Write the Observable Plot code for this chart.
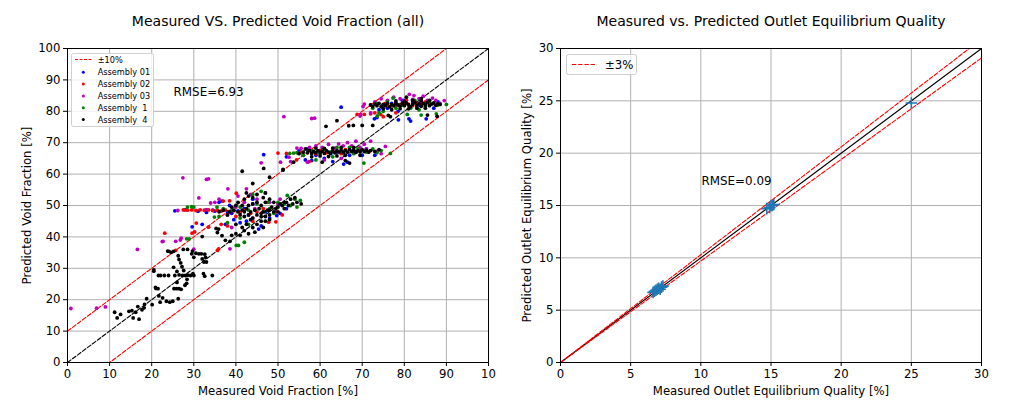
<!DOCTYPE html>
<html><head><meta charset="utf-8">
<script src="https://cdn.jsdelivr.net/npm/d3@7"></script>
<script src="https://cdn.jsdelivr.net/npm/@observablehq/plot@0.6"></script>
<style>
body{margin:0;background:#fff;font-family:"DejaVu Sans",sans-serif;}
#wrap{position:relative;width:1036px;height:407px;overflow:hidden;background:#fff}
#left,#right{position:absolute;top:0}
#left{left:0}#right{left:518px}
svg text{white-space:pre}
.leg{position:absolute}
</style></head><body>
<div id="wrap"><div id="left"></div><div id="right"></div>
<svg class="leg" id="legL" width="84" height="75" style="left:71px;top:53px"></svg>
<svg class="leg" id="legR" width="72" height="22" style="left:566px;top:54px"></svg>
</div>
<script>
// ---------- data ----------
const leftTitle = "Measured VS. Predicted Void Fraction (all)";
const rightTitle = "Measured vs. Predicted Outlet Equilibrium Quality";
const leftXLabel = "Measured Void Fraction [%]";
const leftYLabel = "Predicted Void Fraction [%]";
const rightXLabel = "Measured Outlet Equilibrium Quality [%]";
const rightYLabel = "Predicted Outlet Equilibrium Quality [%]";
const leftTicks = [0,10,20,30,40,50,60,70,80,90,100];
const leftXTickLabels = ["0","10","20","30","40","50","60","70","80","90","10"];
const leftYTickLabels = ["0","10","20","30","40","50","60","70","80","90","100"];
const rightTicks = [0,5,10,15,20,25,30];
const legendLabels = ["Assembly 01","Assembly 02","Assembly 03","Assembly  1","Assembly  4"];
const seriesColors = ["#0000ff","#ff0000","#bf00bf","#008000","#000000"];
const bandLeftLabel = "±10%";
const bandRightLabel = "±3%";
const bandLeft = 10;      // absolute %
const bandRight = 0.03;   // relative
const rmseLeft = "RMSE=6.93";
const rmseRight = "RMSE=0.09";

const asm01 = [[25.5,48.3],[28,48.6],[29.6,43.2],[31,48.2],[32,44],[33,47.8],[34.5,48.5],[36.7,51.4],[37.5,44],[38,48],[39,47.5],[40.5,48.3],[41,44.5],[42,49],[43,47],[44,50.5],[45.4,42.5],[46,43.5],[47,48],[48,46],[49.7,46.8],[50.5,47.5],[52,49],[36,51],[38.5,50],[44,52],[35,48.2],[39.5,45.5],[42.5,45],
[46.6,66.2],[55,67.4],[56.5,64.5],[58,64.3],[59,66],[60,67.5],[61,65],[62.5,66.5],[64,67],[65.6,63.2],[66.5,63.8],[67,66],[68.5,67],[70,66],[71,68],[73,66],[52,65.5],[57,68],[63,64],
[65,81.3],[72.9,77.6],[73.5,78],[75,82],[76,81],[77,82.5],[78.5,80],[78.6,77.3],[80,82],[81.1,77.6],[81.5,76.9],[82,83],[83,81.5],[84,82],[85.2,77.6],[86,82.5],[87,81],[88,83],[74,80.5],[79.5,83.5]];

const asm02 = [[23.1,41.2],[25.7,35.7],[29.6,41.2],[30.2,41.6],[30.6,44.4],[33.5,43.1],[35.6,35.7],[35.9,36.2],[36.5,44],[38,43.5],
[27.5,48.6],[28.5,48.5],[29.5,48.6],[30.5,48.4],[31.5,48.6],[32.5,48.5],[33.5,48.6],[34.5,48.4],[35.6,48.5],[36.5,48.2],[37.5,48.6],[38.5,48],[39.5,48.3],[41,47.8],[42,48.5],[43.5,47.5],[45,48],[46.5,49],[37,51.4],[38.5,51.5],[40.1,53.9],[47.8,44.7],[49.5,44.8],[49.5,48],[51,47],[44,45],[40,46.5],
[50,66.7],[52,66.6],[54.4,64.5],[57.4,64],[58,67],[59,66.5],[60,67.5],[61.5,66.8],[63,67.5],[65,66.5],[66,67.8],[68,67],[69.5,67.5],[71.6,67],[68.8,79],[70.5,79],[55.5,67],
[72,79.2],[73,79.5],[74.4,79],[75,78.3],[76,82],[77.1,81.7],[78,82],[79,82.2],[80,82],[81,82.3],[82,81.8],[83,82.5],[84,82],[85,83],[86,82],[87,82.5],[75.5,82.5],[80.5,83.5],[78,79.5]];

const asm03 = [[0.8,17.2],[6.9,17.3],[9,17.7],[16.6,36],[22.5,38.5],[25.7,38.6],[27,39.6],[30,36.1],[38.6,36.2],[22.7,38.6],[26.8,39],
[27.4,58.8],[33,58.3],[33.5,58.5],[31.2,52.4],[34,50.8],[35,51],[38.1,55.3],[40.5,53],[42.5,55.3],[43.5,53.5],[26.2,48.4],[38,47],[46,63.6],[45,52],[48,51],[50,50.5],[36,52],[33,48.7],[40,49.5],[42,51],[44.5,49],[47,54],[39,43],[44,46],[50.5,52],
[50.6,63.8],[52.6,65.4],[54.5,68.3],[55.5,68.2],[51.4,78.3],[58,77.7],[58.7,77.8],[64.4,69.6],[72,70.5],[73.6,67.3],[75.5,68.8],[56,66],[57.5,68.5],[59,69],[60.5,68.5],[62,69.5],[63.5,68.3],[65.5,69],[66.5,70],[67.5,69],[68.5,70.5],[69.5,68.5],[70.5,69.5],[71,68],[61,64.5],[57,63.8],[74.5,66.5],[69.5,78.5],[72,79.5],[53,64],[65,65],
[69.6,79],[70.2,81.5],[70.5,82.3],[72,82],[73,83],[74.5,84],[76,83.5],[77.5,84.5],[79,84],[80,83.5],[81.2,85.4],[82.3,85],[83.5,84],[84.5,84.8],[85.5,83.5],[86.7,84.2],[87.5,83.5],[88.5,82.5],[89.5,83.4],[75,81],[78,83],[82,83.8],[84,83]];

const asm1 = [[28.3,39.4],[28.9,39.4],[40.1,37.3],[40.6,37.3],[42,38.3],[34.9,46.3],[30,49.5],
[28.5,49.5],[29.5,49.6],[35.5,49.5],[37,49],[39,48.5],[41,49.5],[43,48.5],[45,50.5],[46.5,48],[48,49],[50,51],[51.5,50.5],[52.2,53.2],[53,50],[54,52],[55.3,51.6],[54.5,49.5],[49,47.5],[41,46],[38,44.5],[44,53.5],[46,54.5],[47.5,51],[43,44],[36,46.5],
[53.7,66.7],[52.8,66.6],[54.5,66.8],[56,66],[58,67.5],[60,66.5],[61,68],[62.5,67],[64,68.5],[65.5,67],[67,68.5],[68,66.5],[69,68],[70.4,63.5],[71,67],[72.5,68],[73.5,66.8],[74.5,67.5],[76.7,66.6],[73.6,78.5],[59,64.5],[63,65.5],
[72.5,81],[73.5,82.5],[75,80],[76,83],[77.3,84.2],[78,81],[79.5,82],[80.7,79],[81.5,81],[82.5,83.5],[83.5,80.5],[85,81.5],[86,83],[87.6,79.2],[88,82],[90,82.2],[74,79.5],[84,78.8]];

const asm4 = [[11.2,16],[11.8,14.2],[12.6,15.3],[14.6,16.3],[15.3,16.5],[15.6,14.2],[16.2,16],[17,13.8],[16.7,17.8],[17.7,16.8],[18.2,17.4],[18.8,20.3],[18.3,18.5],[20.1,18.4],[20.5,29.1],[21,23.6],[21.7,21.2],[22,19.2],[22.6,20.6],[23.5,19.5],[24.3,19.2],[25,19.5],[26.3,20.3],[26.5,23.5],[26,25.5],[27.9,24.6],[28.3,25.2],[20.9,23.9],[21.5,23.5],[25.3,23.5],[25.9,23.5],[27,23.3],
[24.1,35.4],[24.6,35.1],[25.2,35.4],[26.3,34],[26.5,32.8],[26.9,31.7],[27.2,30.5],[27.6,29.3],[25.2,30.3],[26,29],[20.5,29.5],[21.6,27.7],[22.1,27.7],[23,27.7],[24,27.7],[25.5,27.7],[26.5,27.9],[27.3,27.7],[28,27.7],[28.6,27.8],[29.2,27.7],[30,27.7],[28.4,26.5],[29.8,28.3],
[29.5,34.6],[30.5,34.8],[31.2,34.6],[31.8,34.6],[32.4,32],[32,33],[33,32],[32,40.1],[32.6,34.5],[32.8,33.5],[32.3,28.3],[32.6,27.5],[34.4,27.7],[35.6,41.4],[35.3,42.7],[36.7,40.4],[37.5,38.9],[38.6,38.6],[35.9,42.5],[29.7,35.5],[30,33.5],[28.5,36],[27.5,36],[23.8,35.5],
[39,40.5],[40,41],[41,40.5],[42,42],[42.5,44],[43,41],[44,43],[45,44],[46,45],[47,46.5],[48,47],[49,48],[50,49.5],[51,50],[52,51],[53,52],[54,52.5],[44.5,41.5],[46.5,43],[41.5,43],[43.5,45.5],[40,44],[38,47],
[36,48],[37,48.5],[38.5,48],[39.5,48.5],[40.5,48],[41.5,48.5],[42.5,49],[43.5,48],[44.5,48.5],[45.5,49],[46.5,48],[47.5,48.5],[48.5,49.5],[49.5,49],[50.5,50.5],[51.5,51],[52.5,50],[53.5,50.5],[54.5,51],[55.5,50.5],[41,47],[42,46.5],[43,47],[44,46],[45,47],[46,46.5],[47,45],[48,45.5],[43,50],[44,50.5],[45,51],[46,50],[47,51],[48,52],[49,51],[42,52],[43,53],[44,52.5],[45,53.5],[46.5,52.5],[47,54],[42.5,54],[40.5,51],[39,49.5],[40,50],[41.5,50],[42,48],[46,47.5],[48,48.5],[50,48],[51.5,49],
[41.5,60.9],[46.6,61.8],[51.2,61.5],[53.7,63.8],[48,59],[44,57],
[51.2,61.3],[60.5,63.8],[61.4,75.2],[66.8,75.4],[67.9,75.5],[55,66.5],[56,67],[57,66.8],[57.5,67.5],[58,66.5],[58.5,67.2],[59,66.8],[59.5,67.5],[60,66.8],[60.5,67.3],[61,66.6],[61.5,67.5],[62,67],[62.5,66.6],[63,67.4],[63.5,66.8],[64,67.5],[64.5,67],[65,67.6],[65.5,66.8],[66,67.5],[66.5,67],[67,67.8],[67.5,67.2],[68,67.6],[68.5,66.9],[69,67.5],[69.5,67.1],[70,67.8],[70.5,67.2],[71,67.6],[71.5,67],[72,67.5],[73,67.2],[58,65.5],[60,65.8],[62,65.6],[64,65.8],[66,66],[68,68.5],[65,68.5],[63,68.3],[61,68.2],[66,64.3],[67,63.5],[74,67.8],[69.5,66],[56.5,68],[59,68.3],
[76.7,78.3],[76.2,78.7],[87.8,78.4],[85.5,78.8],[72,82],[72.5,81.5],[73,82.3],[73.5,81.8],[74,82.5],[74.5,81.5],[75,82.2],[75.5,81.8],[76,82.6],[76.5,81.4],[77,82.2],[77.5,81.8],[78,82.5],[78.5,82],[79,81.6],[79.5,82.4],[80,81.8],[80.5,82.6],[81,82],[81.5,81.5],[82,82.3],[82.5,82.8],[83,81.9],[83.5,82.4],[84,81.6],[84.5,82.5],[85,82],[85.5,82.8],[86,81.8],[86.5,82.3],[87,82.7],[87.5,81.9],[88,82.4],[88.5,82.2],[78,83.3],[80,83.2],[82,83.5],[84,83.4],[79,80.8],[81,80.8],[83,81],[85,81],[86,83.5],[77,80.5],[75,80.8],[70,75.5],[72.5,75.5],[64,77],[84,84],[80.5,84.5]];

const outletMeasured  = [6.6,6.8,6.9,7.0,7.1,7.2,7.3,6.7,14.7,14.9,15.0,15.1,15.2,25.0];
const outletPredicted = [6.7,6.9,7.0,7.1,7.0,7.2,7.3,6.8,14.7,14.8,15.0,15.0,15.1,24.8];

// ---------- build ----------
const series = [asm01, asm02, asm03, asm1, asm4];
const dash = "4.3,1.9";
const fontFam = "DejaVu Sans, sans-serif";
const gridColor = "#b0b0b0";

const leftPlot = Plot.plot({
  width: 518, height: 407,
  marginLeft: 67, marginRight: 30, marginTop: 48, marginBottom: 45,
  style: {fontFamily: fontFam, fontSize: "11.7px", background: "white", color: "black"},
  x: {domain: [0, 100], label: null},
  y: {domain: [0, 100], label: null},
  marks: [
    Plot.gridX(leftTicks, {stroke: gridColor, strokeOpacity: 1, strokeWidth: 1}),
    Plot.gridY(leftTicks, {stroke: gridColor, strokeOpacity: 1, strokeWidth: 1}),
    Plot.line([[0,0],[100,100]], {stroke: "black", strokeWidth: 1.1, strokeDasharray: dash}),
    Plot.line([[0,bandLeft],[100,100+bandLeft]], {stroke: "red", strokeWidth: 1.1, strokeDasharray: dash, clip: true}),
    Plot.line([[0,-bandLeft],[100,100-bandLeft]], {stroke: "red", strokeWidth: 1.1, strokeDasharray: dash, clip: true}),
    ...series.map((s, i) => Plot.dot(s, {x: d => d[0], y: d => d[1], r: 1.9, fill: seriesColors[i], stroke: "none"})),
    Plot.text([rmseLeft], {x: 25.2, y: 86, text: d => d, textAnchor: "start", lineAnchor: "middle", fontSize: 11.9}),
    Plot.axisX(leftTicks, {tickSize: 4, tickPadding: 3, tickFormat: d => leftXTickLabels[leftTicks.indexOf(d)], label: null}),
    Plot.axisY(leftTicks, {tickSize: 4, tickPadding: 3, tickFormat: d => leftYTickLabels[leftTicks.indexOf(d)], label: null}),
    Plot.frame({stroke: "black", strokeWidth: 1}),
    Plot.text([leftTitle], {frameAnchor: "top", dy: -27, text: d => d, textAnchor: "middle", lineAnchor: "middle", fontSize: 14}),
    Plot.text([leftXLabel], {frameAnchor: "bottom", dy: 29, text: d => d, textAnchor: "middle", lineAnchor: "middle", fontSize: 11.7}),
    Plot.text([leftYLabel], {frameAnchor: "left", dx: -40, rotate: -90, text: d => d, textAnchor: "middle", lineAnchor: "middle", fontSize: 11.7})
  ]
});
document.getElementById("left").appendChild(leftPlot);

const outlet = outletMeasured.map((m, i) => ({m, p: outletPredicted[i]}));
const rightPlot = Plot.plot({
  width: 518, height: 407,
  marginLeft: 42, marginRight: 55, marginTop: 48, marginBottom: 45,
  style: {fontFamily: fontFam, fontSize: "11.7px", background: "white", color: "black"},
  x: {domain: [0, 30], label: null},
  y: {domain: [0, 30], label: null},
  marks: [
    Plot.gridX(rightTicks, {stroke: gridColor, strokeOpacity: 1, strokeWidth: 1}),
    Plot.gridY(rightTicks, {stroke: gridColor, strokeOpacity: 1, strokeWidth: 1}),
    Plot.line([[0,0],[30,30]], {stroke: "black", strokeWidth: 1.1}),
    Plot.line([[0,0],[30,30*(1+bandRight)]], {stroke: "red", strokeWidth: 1.1, strokeDasharray: dash, clip: true}),
    Plot.line([[0,0],[30,30*(1-bandRight)]], {stroke: "red", strokeWidth: 1.1, strokeDasharray: dash, clip: true}),
    Plot.dot(outlet, {x: "m", y: "p", symbol: "plus", stroke: "#1f77b4", strokeWidth: 1.6, r: 3.8}),
    Plot.text([rmseRight], {x: 10.05, y: 17.3, text: d => d, textAnchor: "start", lineAnchor: "middle", fontSize: 11.9}),
    Plot.axisX(rightTicks, {tickSize: 4, tickPadding: 3, label: null}),
    Plot.axisY(rightTicks, {tickSize: 4, tickPadding: 3, label: null}),
    Plot.frame({stroke: "black", strokeWidth: 1}),
    Plot.text([rightTitle], {frameAnchor: "top", dy: -27, text: d => d, textAnchor: "middle", lineAnchor: "middle", fontSize: 14}),
    Plot.text([rightXLabel], {frameAnchor: "bottom", dy: 29, text: d => d, textAnchor: "middle", lineAnchor: "middle", fontSize: 11.7}),
    Plot.text([rightYLabel], {frameAnchor: "left", dx: -33, rotate: -90, text: d => d, textAnchor: "middle", lineAnchor: "middle", fontSize: 11.7})
  ]
});
document.getElementById("right").appendChild(rightPlot);

// ---------- legends ----------
const legL = d3.select("#legL");
legL.append("rect").attr("x",0.5).attr("y",0.5).attr("width",82).attr("height",73).attr("rx",2)
  .attr("fill","white").attr("fill-opacity",0.8).attr("stroke","#d0d0d0");
legL.append("line").attr("x1",4).attr("x2",21).attr("y1",6.5).attr("y2",6.5)
  .attr("stroke","red").attr("stroke-width",1).attr("stroke-dasharray","3,1.5");
legL.append("text").attr("x",26.7).attr("y",6.5).attr("dominant-baseline","central")
  .attr("font-family",fontFam).attr("font-size",8.2).text(bandLeftLabel);
legendLabels.forEach((lab, i) => {
  const cy = 19.3 + 11.8 * i;
  legL.append("circle").attr("cx",12.3).attr("cy",cy).attr("r",1.5).attr("fill",seriesColors[i]);
  legL.append("text").attr("x",26.7).attr("y",cy).attr("dominant-baseline","central")
    .attr("font-family",fontFam).attr("font-size",8.2).style("white-space","pre").text(lab);
});
const legR = d3.select("#legR");
legR.append("rect").attr("x",0.5).attr("y",0.5).attr("width",70).attr("height",20).attr("rx",2)
  .attr("fill","white").attr("fill-opacity",0.8).attr("stroke","#d0d0d0");
legR.append("line").attr("x1",6).attr("x2",29).attr("y1",10.5).attr("y2",10.5)
  .attr("stroke","red").attr("stroke-width",1.1).attr("stroke-dasharray",dash);
legR.append("text").attr("x",39).attr("y",11).attr("dominant-baseline","central")
  .attr("font-family",fontFam).attr("font-size",11.7).text(bandRightLabel);
</script>
</body></html>
